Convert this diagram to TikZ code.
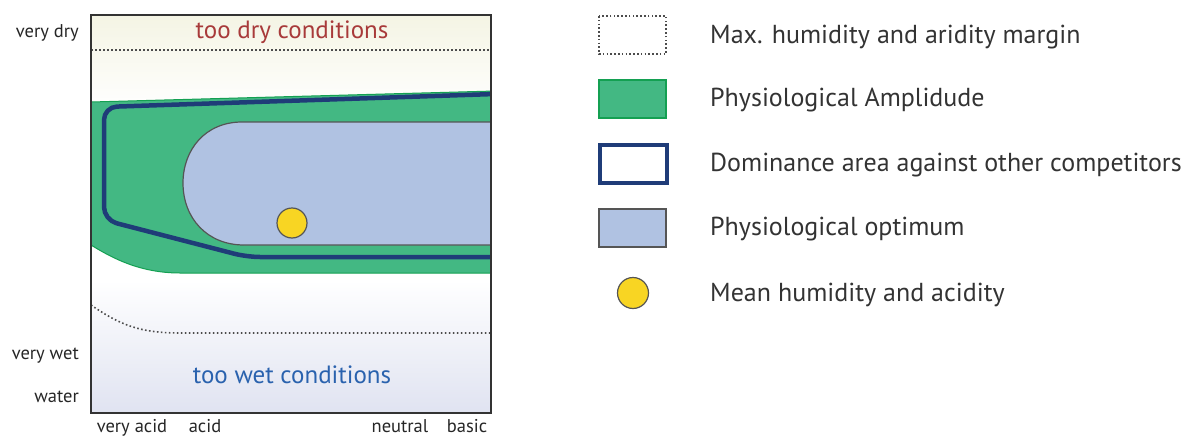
\documentclass[tikz,border=0pt]{standalone}
\usepackage{fontspec}
\setmainfont{PT Sans}
\definecolor{framec}{HTML}{333333}
\definecolor{dryc}{HTML}{A83A3A}
\definecolor{wetc}{HTML}{2A62AE}
\definecolor{ampc}{HTML}{43B883}
\definecolor{ampd}{HTML}{14A052}
\definecolor{domc}{HTML}{1F3C78}
\definecolor{optc}{HTML}{B0C2E2}
\definecolor{optd}{HTML}{555555}
\definecolor{meanc}{HTML}{F8D523}
\definecolor{creamc}{HTML}{F4F4E4}
\definecolor{lavc}{HTML}{E0E3F1}
\tikzset{
  axlab/.style={font=\fontsize{18.5}{20}\selectfont, text=black!85, inner sep=0pt},
  leglab/.style={font=\fontsize{26}{28}\selectfont, text=black!80, anchor=west, inner sep=0pt},
  dotline/.style={line width=1.6pt, dash pattern=on 1.6pt off 2.4pt, black!70},
  ampstyle/.style={fill=ampc, draw=ampd, line width=1pt},
  domstyle/.style={draw=domc, line width=4.5pt},
  optstyle/.style={fill=optc, draw=optd, line width=1.2pt},
  meanstyle/.style={circle, fill=meanc, draw=optd, line width=1.2pt, inner sep=0pt},
}
\begin{document}
\begin{tikzpicture}[x=1pt,y=-1pt]
\useasboundingbox (0,0) rectangle (1197,439);
% plot area
\coordinate (tl) at (91,15);
\coordinate (br) at (491,413);
\begin{scope}
\clip (tl) rectangle (br);
\shade[top color=creamc, bottom color=white] (91,15) rectangle (491,110);
\fill[white] (91,110) rectangle (491,280);
\shade[top color=white, bottom color=lavc] (91,280) rectangle (491,413);
\draw[dotline] (91,50) -- (491,50);
\draw[dotline] (91,305) .. controls (120,325) and (140,333) .. (180,333) -- (491,333);
\path[ampstyle] (91,102) -- (495,91) -- (495,273) -- (180,273) .. controls (140,273) and (112,258) .. (91,245) -- cycle;
\draw[domstyle, rounded corners=13pt] (495,94) -- (104,107) -- (104,220) -- (247,257) -- (495,257);
\path[optstyle] (495,122) -- (242,122) .. controls (205,122) and (183,150) .. (183,183) .. controls (183,218) and (207,245) .. (244,245) -- (495,245);
\end{scope}
\node[meanstyle, minimum size=30pt] (mean) at (292,223) {};
\draw[framec, line width=2.8pt] (tl) rectangle (br);
\node[font=\fontsize{25}{27}\selectfont, text=dryc, inner sep=0pt] (dry) at (292,32) {too dry conditions};
\node[font=\fontsize{25}{27}\selectfont, text=wetc, inner sep=0pt] (wet) at (292,375) {too wet conditions};
% axis labels
\node[axlab, anchor=east] (vdry) at (79,33) {very dry};
\node[axlab, anchor=east] (vwet) at (79,356) {very wet};
\node[axlab, anchor=east] (water) at (79,397) {water};
\node[axlab, anchor=base] (vacid) at (132,432) {very acid};
\node[axlab, anchor=base] (acid) at (205,432) {acid};
\node[axlab, anchor=base] (neutral) at (400,432) {neutral};
\node[axlab, anchor=base] (basic) at (467,432) {basic};
% legend
\draw[line width=1.6pt, dash pattern=on 1.6pt off 2.2pt, black!70] (599,16) rectangle (666,54);
\node[leglab] (l1) at (710,37) {Max. humidity and aridity margin};
\path[ampstyle, line width=1.6pt] (599,80) rectangle (666,118);
\node[leglab] (l2) at (710,100) {Physiological Amplidude};
\draw[domc, line width=4.5pt] (600,145) rectangle (667,183);
\node[leglab] (l3) at (710,165) {Dominance area against other competitors};
\path[optstyle, line width=1.8pt] (599,209) rectangle (666,247);
\node[leglab] (l4) at (710,229) {Physiological optimum};
\node[meanstyle, minimum size=31pt] (lm) at (633,293) {};
\node[leglab] (l5) at (710,295) {Mean humidity and acidity};
\end{tikzpicture}
\end{document}
